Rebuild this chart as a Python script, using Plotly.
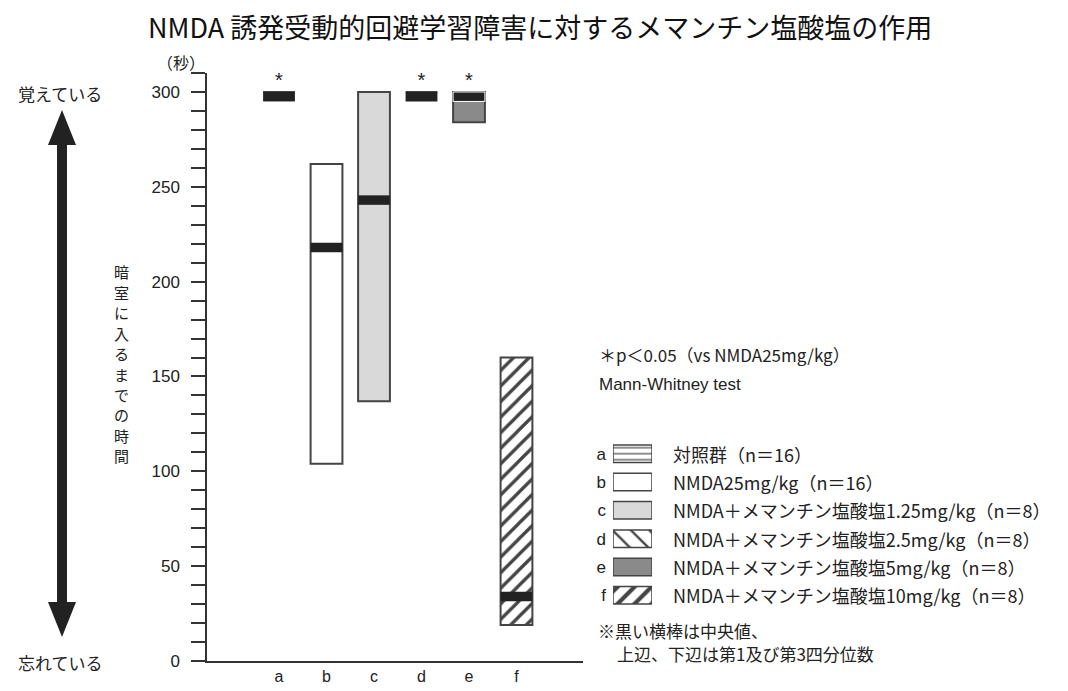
import plotly.graph_objects as go

# data (seconds)
groups = ["a", "b", "c", "d", "e", "f"]
q1 = [300, 104, 137, 300, 284, 19]      # lower edge of the box
q3 = [300, 262, 300, 300, 300, 160]     # upper edge of the box
median = [300, 218, 243, 300, 300, 34]
significant = ["a", "d", "e"]           # * p<0.05 vs NMDA25mg/kg

legend_labels = [
    "対照群（n＝16）",
    "NMDA25mg/kg（n＝16）",
    "NMDA＋メマンチン塩酸塩1.25mg/kg（n＝8）",
    "NMDA＋メマンチン塩酸塩2.5mg/kg（n＝8）",
    "NMDA＋メマンチン塩酸塩5mg/kg（n＝8）",
    "NMDA＋メマンチン塩酸塩10mg/kg（n＝8）",
]
y_title = "暗室に入るまでの時間"

W, H = 1068, 691
OFF = 8  # page body margin
JP = "Noto Sans CJK JP, Noto Sans, sans-serif"
NUM = "Liberation Sans, Arial, sans-serif"
INK = "#222222"


def px(x):
    return (x - OFF) / W


def py(y):
    return 1 - (y - OFF) / H


fills = ["white", "white", "#d9d9d9", "white", "#8a8a8a", "white"]
shapes_main = ["", "", "", "", "", "/"]
shapes_leg = ["-", "", "", "\\", "", "/"]
sizes_leg = [6, 8, 8, 13, 12, 12]
solid_leg = [0.2, 0.3, 0.3, 0.18, 0.3, 0.35]

fig = go.Figure()

# IQR boxes
fig.add_trace(go.Bar(
    x=groups, y=[h - l for l, h in zip(q1, q3)], base=q1, width=0.67,
    marker=dict(color=fills, line=dict(color="#444444", width=2),
                pattern=dict(shape=shapes_main, fgcolor="#111111", bgcolor="white",
                             fgopacity=1, size=11, solidity=0.3)),
    showlegend=False, hoverinfo="skip",
))

# median bands (black bars, kept under the 300 s ceiling)
band_top = [min(m + 2.5, 300) for m in median]
fig.add_trace(go.Bar(
    x=groups, y=[5] * len(groups), base=[t - 5 for t in band_top], width=0.67,
    marker=dict(color=INK,
                line=dict(color=["rgba(0,0,0,0)"] * 4 + ["white", "rgba(0,0,0,0)"], width=1)),
    showlegend=False, hoverinfo="skip",
))

# significance stars
fig.add_trace(go.Scatter(
    x=significant, y=[305] * len(significant), mode="text", text=["*"] * len(significant),
    textfont=dict(size=20, color=INK, family=NUM), showlegend=False, hoverinfo="skip",
))

# legend swatches on their own small axes
fig.add_trace(go.Bar(
    y=groups, x=[1] * len(groups), orientation="h", width=0.62,
    xaxis="x2", yaxis="y2",
    marker=dict(color=fills, line=dict(color="#444444", width=1.5),
                pattern=dict(shape=shapes_leg, fgcolor="#111111", bgcolor="white",
                             fgopacity=1, size=sizes_leg, solidity=solid_leg)),
    showlegend=False, hoverinfo="skip",
))

row_a, row_f = 453, 596
step = (row_f - row_a) / 5

annotations = [
    dict(x=px(540), y=py(27), text="NMDA 誘発受動的回避学習障害に対するメマンチン塩酸塩の作用",
         font=dict(size=27, family=JP, color="#111111")),
    dict(x=px(181), y=py(62), text="（秒）", font=dict(size=16, family=JP, color=INK)),
    dict(x=px(60), y=py(93), text="覚えている", font=dict(size=17, family=JP, color=INK)),
    dict(x=px(60), y=py(662), text="忘れている", font=dict(size=17, family=JP, color=INK)),
    dict(x=px(597), y=py(355), xanchor="left", text="＊p＜0.05（vs NMDA25mg/kg）",
         font=dict(size=17, family=JP, color=INK)),
    dict(x=px(597), y=py(384), xanchor="left", text="Mann-Whitney test",
         font=dict(size=17, family=NUM, color=INK)),
    dict(x=px(597), y=py(630), xanchor="left", text="※黒い横棒は中央値、", borderpad=0,
         font=dict(size=17, family=JP, color=INK)),
    dict(x=px(616), y=py(653), xanchor="left", text="上辺、下辺は第1及び第3四分位数",
         borderpad=0, font=dict(size=17, family=JP, color=INK)),
]
# vertical (stacked) axis title
for i, ch in enumerate(y_title):
    annotations.append(dict(x=px(121), y=py(272 + i * 20.4), text=ch, borderpad=0,
                            font=dict(size=15, family=JP, color=INK)))
for g, lab in zip(groups, legend_labels):
    annotations.append(dict(x=px(671), xref="paper", y=g, yref="y2", xanchor="left",
                            text=lab, font=dict(size=18, family=JP, color=INK)))
for a in annotations:
    a.setdefault("xref", "paper")
    a.setdefault("yref", "paper")
    a.setdefault("xanchor", "center")
    a.setdefault("yanchor", "middle")
    a["showarrow"] = False

# double-headed arrow on the left
ax, top, bot = 62, 110, 637
head, half, shaft = 35, 14, 5
arrow_path = (
    f"M {px(ax)} {py(top)} L {px(ax + half)} {py(top + head)} L {px(ax + shaft)} {py(top + head)} "
    f"L {px(ax + shaft)} {py(bot - head)} L {px(ax + half)} {py(bot - head)} L {px(ax)} {py(bot)} "
    f"L {px(ax - half)} {py(bot - head)} L {px(ax - shaft)} {py(bot - head)} "
    f"L {px(ax - shaft)} {py(top + head)} L {px(ax - half)} {py(top + head)} Z"
)

fig.update_layout(
    width=W, height=H,
    margin=dict(l=0, r=0, t=0, b=0, autoexpand=False),
    paper_bgcolor="white", plot_bgcolor="white",
    barmode="overlay", showlegend=False,
    font=dict(family=JP, color=INK),
    annotations=annotations,
    shapes=[dict(type="path", path=arrow_path, xref="paper", yref="paper",
                 fillcolor=INK, line=dict(width=0))],
    xaxis=dict(domain=[px(207), px(583)], type="category", range=[-1.516, 6.40],
               showline=True, linecolor="#333333", linewidth=1.5, ticks="",
               showgrid=False, zeroline=False, automargin=False,
               tickfont=dict(size=16, family=NUM)),
    yaxis=dict(domain=[py(661), py(73)], range=[0, 310], dtick=50, tick0=0,
               showline=True, linecolor="#333333", linewidth=1.5,
               ticks="outside", ticklen=14, tickwidth=1.5, tickcolor="#333333",
               minor=dict(dtick=10, ticks="outside", ticklen=14, tickwidth=1.5,
                          tickcolor="#333333"),
               ticklabelstandoff=8, showgrid=False, zeroline=False, automargin=False,
               tickfont=dict(size=17, family=NUM)),
    xaxis2=dict(domain=[px(613), px(652)], range=[0, 1], visible=False, automargin=False),
    yaxis2=dict(domain=[py(row_f + step / 2), py(row_a - step / 2)], type="category",
                autorange="reversed", showline=False, ticks="", showgrid=False,
                zeroline=False, anchor="x2", ticklabelstandoff=6, automargin=False,
                tickfont=dict(size=17, family=NUM)),
)

fig.write_html("out.html")
